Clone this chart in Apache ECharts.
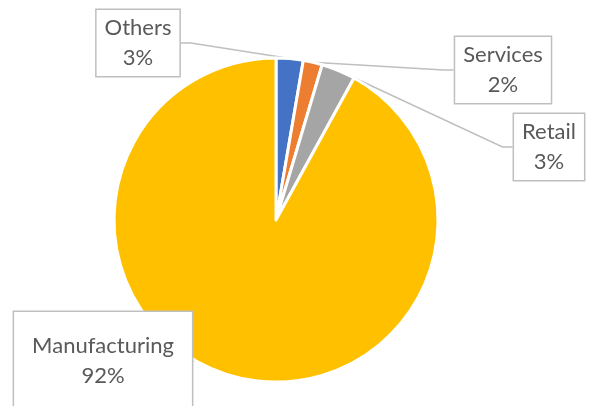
<!DOCTYPE html>
<html>
<head>
<meta charset="utf-8">
<script src="https://cdn.jsdelivr.net/npm/echarts@6/dist/echarts.min.js"></script>
<style>
  html, body { margin: 0; padding: 0; background: #fff; }
  #chart { width: 589px; height: 406px; }
</style>
</head>
<body>
<div id="chart"></div>
<script>
// sectors, clockwise from 12 o'clock
var sectors = ['Others', 'Services', 'Retail', 'Manufacturing'];
var shares = [2.7, 1.9, 3.4, 92.0];
var colors = ['#4472C4', '#ED7D31', '#A5A5A5', '#FFC000'];

// where the callout boxes sit (centre of each box)
var boxAt = [[138, 43], [503, 70], [549, 147], [103, 361]];

var data = sectors.map(function (name, i) {
  var item = { name: name, value: shares[i], itemStyle: { color: colors[i] } };
  if (name === 'Manufacturing') {
    item.label = { padding: [19, 18, 19, 18] };
  }
  return item;
});

var option = {
  animation: false,
  series: [{
    type: 'pie',
    center: [276, 220],
    radius: 162,
    startAngle: 90,
    clockwise: true,
    itemStyle: { borderColor: '#fff', borderWidth: 3 },
    label: {
      show: true,
      position: 'outside',
      fontFamily: 'Lato',
      fontSize: 22,
      lineHeight: 30,
      color: '#595959',
      align: 'center',
      backgroundColor: '#fff',
      borderColor: '#BFBFBF',
      borderWidth: 1.5,
      padding: [4, 8, 2, 8],
      formatter: function (p) {
        return p.name + '\n' + Math.round(p.percent) + '%';
      }
    },
    labelLine: {
      show: true,
      length: 10,
      length2: 10,
      lineStyle: { color: '#BFBFBF', width: 1.5 }
    },
    labelLayout: function (params) {
      var p = boxAt[params.dataIndex];
      return { x: p[0], y: p[1], align: 'center', verticalAlign: 'middle' };
    },
    data: data
  }]
};

var myChart = echarts.init(document.getElementById('chart'));
myChart.setOption(option);
</script>
</body>
</html>
